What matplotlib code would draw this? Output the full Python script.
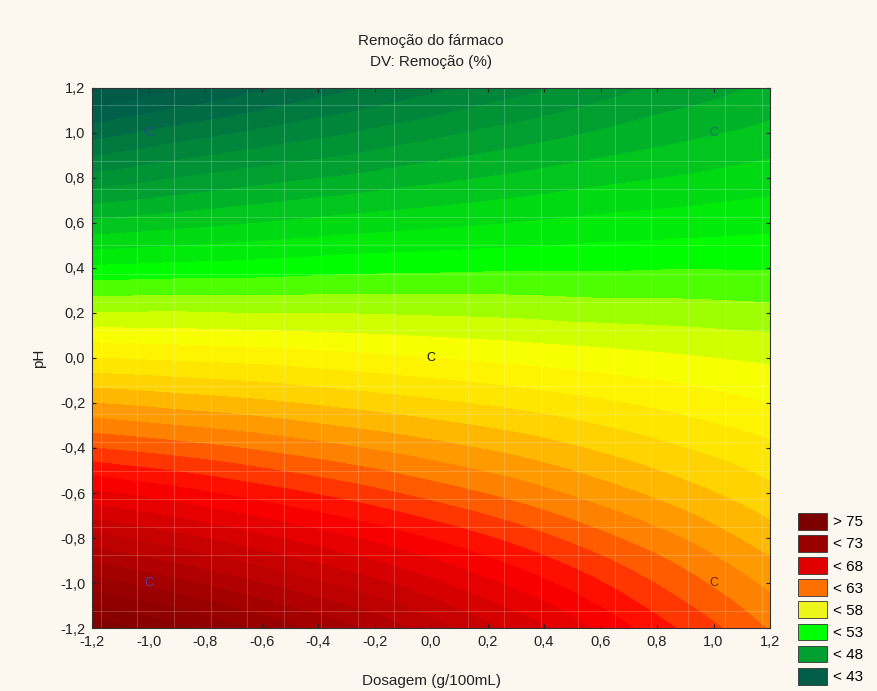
import numpy as np
import matplotlib
matplotlib.use('Agg')
import matplotlib.pyplot as plt
import matplotlib.tri as mtri
from matplotlib.colors import LinearSegmentedColormap, Normalize
from matplotlib.patches import Patch
from matplotlib.ticker import FuncFormatter, MultipleLocator

plt.rcParams['font.family'] = ['Liberation Sans', 'DejaVu Sans']

# grid of the response surface (Dosagem x pH)
dosagem = [-1.2, -0.9, -0.6, -0.3, 0.0, 0.3, 0.6, 0.9, 1.2]
ph = [-1.2, -0.9, -0.6, -0.3, 0.0, 0.3, 0.6, 0.9, 1.2]
# rows follow ph (bottom -> top), columns follow dosagem (left -> right)
remocao = [
    [77.2, 75.8, 74.3, 72.8, 71.0, 69.2, 67.3, 65.3, 63.4],
    [72.4, 71.3, 70.1, 68.9, 67.6, 66.2, 64.7, 63.2, 61.6],
    [67.7, 66.9, 66.0, 65.1, 64.1, 63.1, 62.0, 60.9, 59.8],
    [63.0, 62.5, 62.0, 61.4, 60.8, 60.2, 59.5, 58.8, 58.1],
    [58.5, 58.3, 58.1, 57.8, 57.5, 57.2, 56.9, 56.6, 56.3],
    [54.1, 54.2, 54.2, 54.3, 54.3, 54.3, 54.2, 54.2, 54.1],
    [49.7, 50.1, 50.5, 50.9, 51.2, 51.5, 51.8, 52.0, 52.2],
    [45.4, 46.2, 46.9, 47.5, 48.2, 48.8, 49.4, 49.9, 50.4],
    [41.2, 42.3, 43.3, 44.3, 45.2, 46.1, 47.0, 47.9, 48.7],
]

# design points (labelled "C")
pts_x = [-1.0, 1.0, 0.0, -1.0, 1.0]
pts_y = [1.0, 1.0, 0.0, -1.0, -1.0]
pts_col = ['#2b4f8c', '#1f6f6a', '#111111', '#5a3fa0', '#7a1a10']

legend_labels = ['> 75', '< 73', '< 68', '< 63', '< 58', '< 53', '< 48', '< 43']
legend_colors = ['#7d0000', '#9a0000', '#e00000', '#ff7000', '#eef51a',
                 '#00ff00', '#00a030', '#005e48']

# colour ramp (value -> colour)
ramp_vals = [40, 43, 48, 53, 55.5, 57.2, 59.5, 63, 66.5, 70, 74, 78]
ramp_cols = ['#005040', '#006048', '#00a030', '#00ff00', '#c0ff00', '#ffff00',
             '#ffe000', '#ff8000', '#ff0000', '#c80000', '#9a0000', '#780000']

bg = '#fcf8f0'
vmin, vmax = ramp_vals[0], ramp_vals[-1]
cmap = LinearSegmentedColormap.from_list(
    'statistica', [((v - vmin) / (vmax - vmin), c) for v, c in zip(ramp_vals, ramp_cols)])

fig = plt.figure(figsize=(8.77, 6.91), dpi=100, facecolor=bg)
ax = fig.add_axes([0.105, 0.091, 0.773, 0.782])

X, Y = np.meshgrid(dosagem, ph)
Z = np.array(remocao)
tri = mtri.Triangulation(X.ravel(), Y.ravel())
interp = mtri.CubicTriInterpolator(tri, Z.ravel(), kind='geom')
tri_f, z_f = mtri.UniformTriRefiner(tri).refine_field(Z.ravel(), triinterpolator=interp, subdiv=3)
levels = np.arange(39.5, 79.5, 1.0)
ax.tricontourf(tri_f, z_f, levels=levels, cmap=cmap, norm=Normalize(vmin, vmax), extend='both')

# faint mesh lines like the original
ax.xaxis.set_minor_locator(MultipleLocator(0.13))
ax.yaxis.set_minor_locator(MultipleLocator(0.125))
ax.grid(which='minor', color='white', alpha=0.2, lw=0.8)
ax.tick_params(which='minor', length=0)

for x, y, c in zip(pts_x, pts_y, pts_col):
    ax.text(x, y, 'C', color=c, fontsize=9, ha='center', va='center')

ax.set_xlim(-1.2, 1.2)
ax.set_ylim(-1.2, 1.2)
ax.xaxis.set_major_locator(MultipleLocator(0.2))
ax.yaxis.set_major_locator(MultipleLocator(0.2))
fmt = FuncFormatter(lambda v, p: ('%.1f' % v).replace('-0.0', '0.0').replace('.', ','))
ax.xaxis.set_major_formatter(fmt)
ax.yaxis.set_major_formatter(fmt)
ax.tick_params(which='major', direction='in', length=3, top=True, right=True,
               labelsize=10.5, colors='#222222', pad=5)
for s in ax.spines.values():
    s.set_color('#333333')
    s.set_linewidth(0.8)

ax.set_xlabel('Dosagem (g/100mL)', fontsize=11, color='#222222', labelpad=18)
ax.set_ylabel('pH', fontsize=11, color='#222222', labelpad=10)
ax.set_title('Remoção do fármaco\nDV: Remoção (%)', fontsize=11, color='#222222',
             pad=16, linespacing=1.55)

handles = [Patch(facecolor=c, edgecolor='#333333', linewidth=0.6) for c in legend_colors]
fig.legend(handles, legend_labels, loc='lower left', bbox_to_anchor=(0.899, -0.004),
           frameon=False, fontsize=11, handlelength=1.9, handleheight=1.3,
           handletextpad=0.45, labelspacing=0.36, borderaxespad=0.2)

fig.savefig('out.png', dpi=100, facecolor=bg)
